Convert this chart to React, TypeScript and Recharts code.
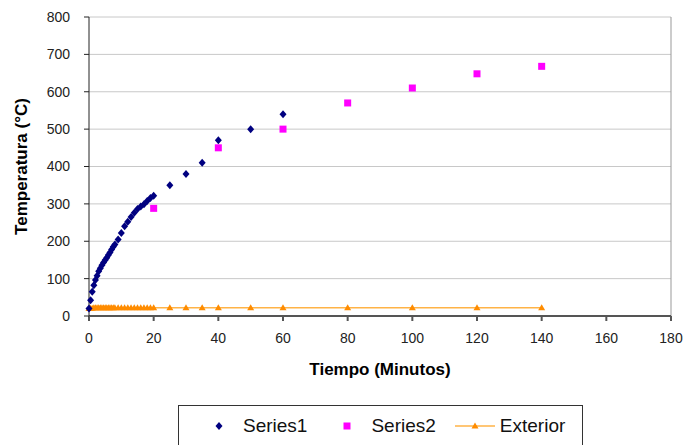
import { ScatterChart, Scatter, XAxis, YAxis, CartesianGrid, Legend, ReferenceLine, Label } from "recharts";

// Tiempo (minutos) y temperatura (°C) de cada serie
const time1 = [0, 0.5, 1, 1.5, 2, 2.5, 3, 3.5, 4, 4.5, 5, 5.5, 6, 6.5, 7, 7.5, 8, 9, 10, 11, 12, 13, 14, 15, 16, 17, 18, 19, 20, 25, 30, 35, 40, 50, 60];
const series1 = [20, 42, 65, 82, 96, 108, 120, 128, 136, 143, 150, 156, 163, 170, 178, 185, 191, 205, 222, 240, 252, 265, 276, 286, 293, 299, 308, 316, 322, 350, 380, 410, 470, 500, 540];

const time2 = [20, 40, 60, 80, 100, 120, 140];
const series2 = [288, 450, 500, 570, 610, 648, 668];

const timeExt = [0, 0.5, 1, 1.5, 2, 2.5, 3, 3.5, 4, 4.5, 5, 5.5, 6, 6.5, 7, 7.5, 8, 9, 10, 11, 12, 13, 14, 15, 16, 17, 18, 19, 20, 25, 30, 35, 40, 50, 60, 80, 100, 120, 140];
const exterior = [20, 21, 21, 22, 22, 22, 22, 22, 22, 22, 22, 22, 22, 22, 22, 22, 22, 22, 22, 22, 22, 22, 22, 22, 22, 22, 22, 22, 22, 22, 22, 22, 22, 22, 22, 22, 22, 22, 22];

const xTicks = [0, 20, 40, 60, 80, 100, 120, 140, 160, 180];
const yTicks = [0, 100, 200, 300, 400, 500, 600, 700, 800];

const data1 = time1.map((t, i) => ({ x: t, y: series1[i] }));
const data2 = time2.map((t, i) => ({ x: t, y: series2[i] }));
const dataExt = timeExt.map((t, i) => ({ x: t, y: exterior[i] }));

const NAVY = "#000080";
const MAGENTA = "#FF00FF";
const ORANGE = "#FF8C00";
const ORANGE_LINE = "#FFB347";
const FONT = "'Liberation Sans', Arial, sans-serif";

const Diamond = ({ cx, cy }: any) => (
  <polygon points={`${cx},${cy - 4} ${cx + 3.5},${cy} ${cx},${cy + 4} ${cx - 3.5},${cy}`} fill={NAVY} />
);

const Square = ({ cx, cy }: any) => <rect x={cx - 3.5} y={cy - 3.5} width={7} height={7} fill={MAGENTA} />;

const Triangle = ({ cx, cy }: any) => (
  <polygon points={`${cx},${cy - 3.5} ${cx + 3.5},${cy + 2.5} ${cx - 3.5},${cy + 2.5}`} fill={ORANGE} />
);

const LegendBox = () => (
  <div
    style={{
      width: 405,
      height: 42,
      boxSizing: "border-box",
      border: "1px solid #333",
      background: "#fff",
      display: "flex",
      alignItems: "center",
      fontFamily: FONT,
      fontSize: 19,
      color: "#111",
      whiteSpace: "nowrap",
    }}
  >
    <svg width={12} height={12} style={{ marginLeft: 34, flexShrink: 0 }}>
      <polygon points="6,2 9.5,6 6,10 2.5,6" fill={NAVY} />
    </svg>
    <span style={{ marginLeft: 18 }}>Series1</span>
    <svg width={12} height={12} style={{ marginLeft: 34, flexShrink: 0 }}>
      <rect x={2.5} y={2.5} width={7} height={7} fill={MAGENTA} />
    </svg>
    <span style={{ marginLeft: 18 }}>Series2</span>
    <svg width={42} height={12} style={{ marginLeft: 19, flexShrink: 0 }}>
      <line x1={0} y1={6} x2={40} y2={6} stroke={ORANGE_LINE} strokeWidth={1.5} />
      <polygon points="20,2.5 23.5,8.5 16.5,8.5" fill={ORANGE} />
    </svg>
    <span style={{ marginLeft: 3 }}>Exterior</span>
  </div>
);

const App = () => {
  return (
    <div style={{ position: "absolute", left: 0, top: 0, background: "#fff" }}>
      <ScatterChart width={696} height={445} margin={{ top: 17, right: 25, left: 0, bottom: 69 }}>
        <CartesianGrid vertical={false} stroke="#c8c8c8" strokeWidth={1} />
        <XAxis
          type="number"
          dataKey="x"
          domain={[0, 180]}
          ticks={xTicks}
          height={60}
          tickSize={5}
          tickMargin={12}
          stroke="#555"
          strokeWidth={2}
          tick={{ fill: "#222", fontSize: 14, fontFamily: FONT }}
        >
          <Label
            value="Tiempo (Minutos)"
            position="insideTop"
            offset={47}
            style={{ fontWeight: "bold", fontSize: 17, fill: "#000", fontFamily: FONT }}
          />
        </XAxis>
        <YAxis
          type="number"
          dataKey="y"
          domain={[0, 800]}
          ticks={yTicks}
          width={89}
          tickSize={5}
          tickMargin={14}
          stroke="#222"
          tick={{ fill: "#222", fontSize: 14, fontFamily: FONT }}
        >
          <Label
            value="Temperatura (°C)"
            angle={-90}
            position="insideLeft"
            offset={21}
            style={{ fontWeight: "bold", fontSize: 17, fill: "#000", fontFamily: FONT, textAnchor: "middle" }}
          />
        </YAxis>
        <ReferenceLine x={180} stroke="#999" strokeWidth={1} />
        <Legend
          layout="horizontal"
          verticalAlign="middle"
          align="center"
          wrapperStyle={{ top: 405, left: 178, width: 405, height: 42 }}
          content={() => <LegendBox />}
        />
        <Scatter name="Exterior" data={dataExt} line={{ stroke: ORANGE_LINE, strokeWidth: 1.5 }} shape={Triangle} isAnimationActive={false} />
        <Scatter name="Series1" data={data1} shape={Diamond} isAnimationActive={false} />
        <Scatter name="Series2" data={data2} shape={Square} isAnimationActive={false} />
      </ScatterChart>
    </div>
  );
};

export default App;
